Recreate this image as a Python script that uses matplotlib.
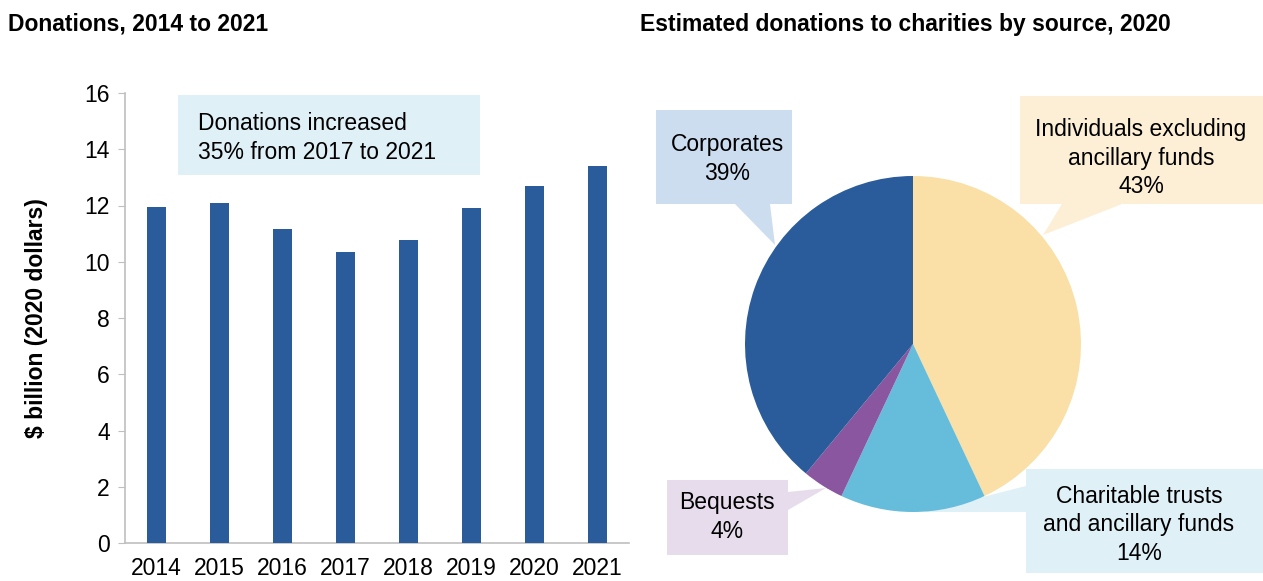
import matplotlib.pyplot as plt
from matplotlib.patches import Polygon

plt.rcParams['font.family'] = ['Liberation Sans', 'DejaVu Sans']

# bar chart data
years = ['2014', '2015', '2016', '2017', '2018', '2019', '2020', '2021']
donations = [11.95, 12.08, 11.18, 10.33, 10.76, 11.9, 12.7, 13.4]
y_ticks = [0, 2, 4, 6, 8, 10, 12, 14, 16]

# pie data
sources = ['Individuals excluding\nancillary funds', 'Charitable trusts\nand ancillary funds',
           'Bequests', 'Corporates']
shares = [43, 14, 4, 39]
pie_colors = ['#FAE0A7', '#66BCDB', '#8A56A0', '#2A5B9A']
box_colors = ['#FDEFD5', '#DFF0F7', '#E7DCEC', '#CCDDF0']

BAR_COLOR = '#2A5B9A'
GRID_GREY = '#BFBFBF'
FS = 16.5
LS = 1.3

W, H = 1263, 581
fig = plt.figure(figsize=(W / 100, H / 100), dpi=100)


def fx(x):
    return x / W


def fy(y):
    return 1 - y / H


def callout(ax, pts, color):
    # pts in image pixels -> figure fraction
    poly = Polygon([(fx(x), fy(y)) for x, y in pts], closed=True,
                   transform=fig.transFigure, facecolor=color, edgecolor='none',
                   zorder=0, clip_on=False)
    ax.add_patch(poly)


# ---- left: bar chart ----
ax = fig.add_axes([fx(125), fy(543), (629 - 125) / W, (543 - 93) / H])
ax.bar(range(len(years)), donations, width=0.3, color=BAR_COLOR, zorder=3)
ax.set_xlim(-0.5, len(years) - 0.5)
ax.set_ylim(0, 16)
ax.set_yticks(y_ticks)
ax.set_xticks(range(len(years)))
ax.set_xticklabels(years)
for s in ['top', 'right']:
    ax.spines[s].set_visible(False)
for s in ['left', 'bottom']:
    ax.spines[s].set_color(GRID_GREY)
    ax.spines[s].set_linewidth(1.2)
ax.tick_params(axis='y', length=5, color=GRID_GREY, labelsize=FS, pad=6)
ax.tick_params(axis='x', length=0, labelsize=FS, pad=10)
ax.set_ylabel('$ billion (2020 dollars)', fontsize=FS, fontweight='bold', labelpad=26)

# annotation box
callout(ax, [(178, 95), (480, 95), (480, 175), (178, 175)], '#DFF0F7')
fig.text(fx(198), fy(138), 'Donations increased\n35% from 2017 to 2021', fontsize=FS,
         ha='left', va='center', linespacing=LS)

fig.text(fx(8), fy(24), 'Donations, 2014 to 2021', fontsize=16.5, fontweight='bold',
         ha='left', va='center')
fig.text(fx(640), fy(24), 'Estimated donations to charities by source, 2020',
         fontsize=16.5, fontweight='bold', ha='left', va='center')

# ---- right: pie chart ----
cx, cy, r = 913, 344, 168
pax = fig.add_axes([fx(640), 0, (W - 640) / W, 1])
pax.pie(shares, colors=pie_colors, startangle=90, counterclock=False, radius=1,
        wedgeprops=dict(linewidth=0))
pax.set_xlim((640 - cx) / r, (W - cx) / r)
pax.set_ylim(-(H - cy) / r, cy / r)
pax.set_aspect('auto')
pax.axis('off')

# callouts (box + pointer), image pixel coords
callout(pax, [(1020, 96), (W, 96), (W, 204), (1122, 204), (1043, 235), (1062, 204),
              (1020, 204)], box_colors[0])
callout(pax, [(1026, 469), (W, 469), (W, 573), (1026, 573), (1026, 512), (924, 512),
              (1026, 486)], box_colors[1])
callout(pax, [(667, 480), (788, 480), (788, 492), (826, 488), (788, 510), (788, 555),
              (667, 555)], box_colors[2])
callout(pax, [(656, 110), (792, 110), (792, 204), (770, 204), (775, 245), (735, 204),
              (656, 204)], box_colors[3])

label_pos = [(1141, 158), (1139, 525), (727, 517), (727, 159)]
for name, share, (lx, ly) in zip(sources, shares, label_pos):
    fig.text(fx(lx), fy(ly), f'{name}\n{share}%', fontsize=FS, ha='center', va='center',
             linespacing=LS)

fig.savefig('out.png', dpi=100)
